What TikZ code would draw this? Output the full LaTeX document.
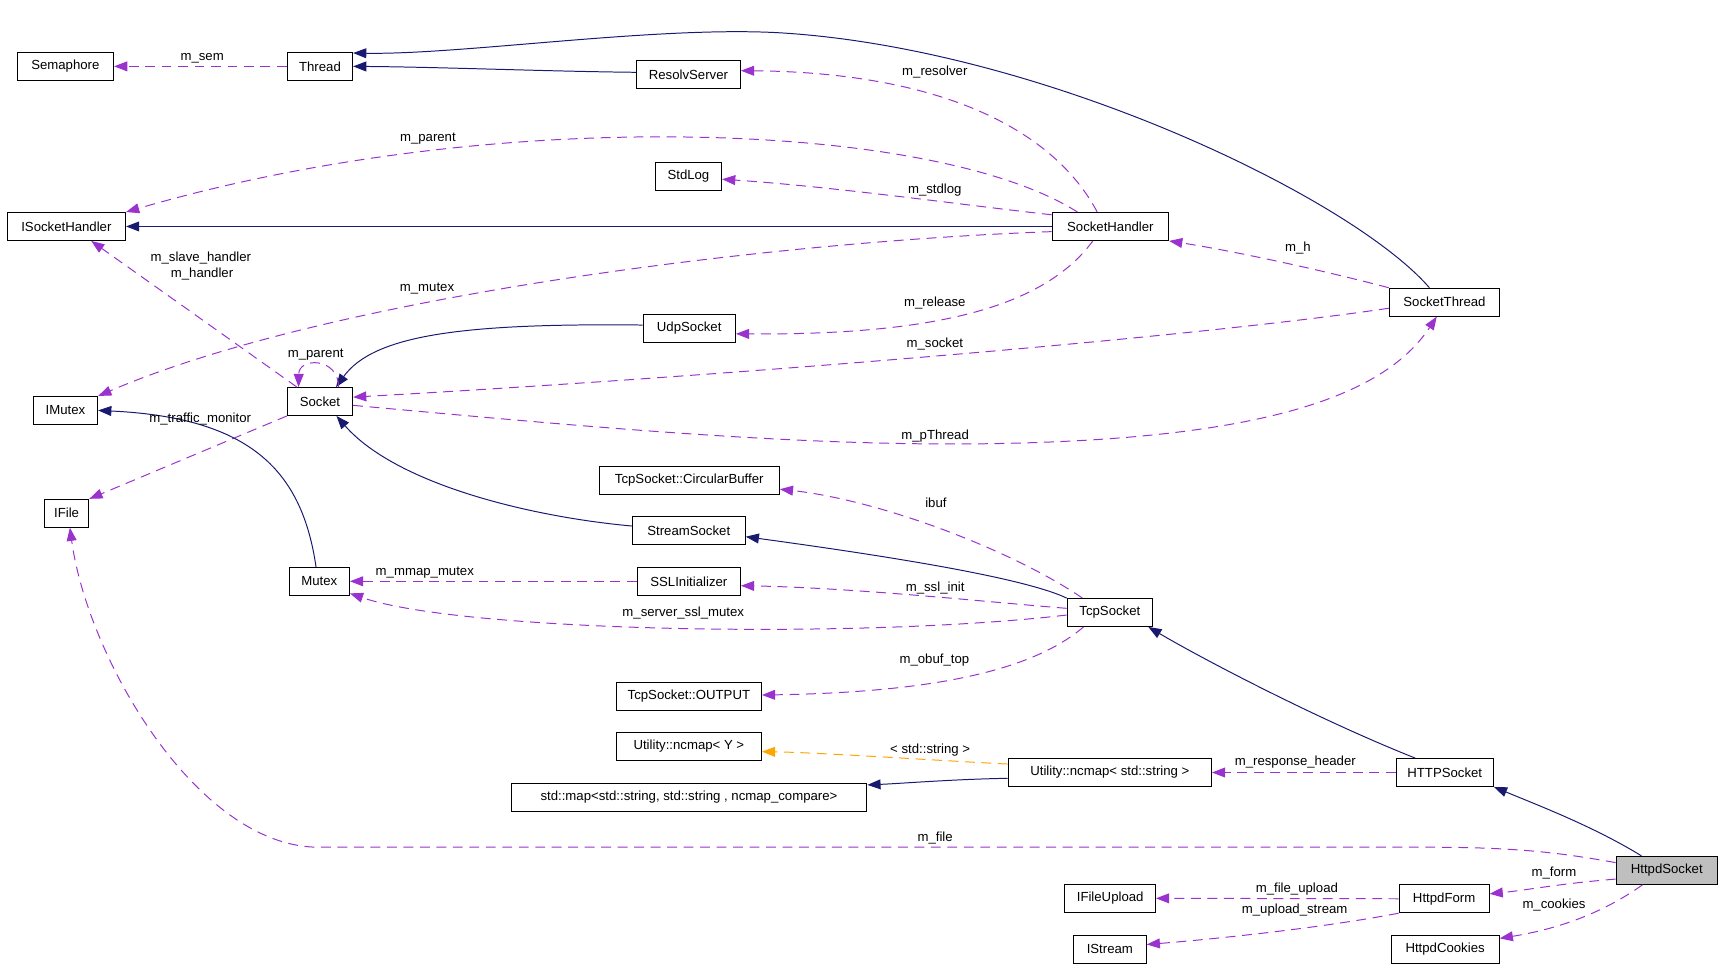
\documentclass[tikz,border=0pt]{standalone}
\usepackage{fontspec}
\setmainfont{Liberation Sans}
\usetikzlibrary{arrows.meta}
\definecolor{inhc}{HTML}{191970}
\definecolor{usec}{HTML}{9A32CD}
\definecolor{tplc}{HTML}{FFA500}
\begin{document}
\begin{tikzpicture}[x=1pt,y=-1pt,font=\fontsize{12}{14}\selectfont,
  cls/.style={draw=black,line width=1pt,fill=white,inner sep=0pt,minimum height=25.3pt},
  inh/.style={draw=inhc,line width=0.9pt,-{Triangle[length=12pt,width=9pt]}},
  use/.style={draw=usec,line width=0.9pt,dash pattern=on 9pt off 6pt,-{Triangle[length=12pt,width=9pt]}},
  tpl/.style={draw=tplc,line width=0.9pt,dash pattern=on 9pt off 6pt,-{Triangle[length=12pt,width=9pt]}},
  lbl/.style={inner sep=0pt,text height=6.2pt,text depth=0pt}]
\useasboundingbox (0,0) rectangle (1568,880);
% nodes
\node[cls,minimum width=87.7pt] (semaphore) at (59.5,60.4) {Semaphore};
\node[cls,minimum width=59.3pt] (thread) at (291.2,60.4) {Thread};
\node[cls,minimum width=94.5pt] (resolv) at (626.5,67.8) {ResolvServer};
\node[cls,minimum width=60.3pt] (stdlog) at (626.5,160.6) {StdLog};
\node[cls,minimum width=107.6pt] (ish) at (60.4,206.1) {ISocketHandler};
\node[cls,minimum width=105.9pt] (sh) at (1010.5,206.1) {SocketHandler};
\node[cls,minimum width=100.4pt] (st) at (1314.5,275) {SocketThread};
\node[cls,minimum width=84pt] (udp) at (627.2,298.8) {UdpSocket};
\node[cls,minimum width=58.5pt] (imutex) at (59.6,373.5) {IMutex};
\node[cls,minimum width=59.3pt] (socket) at (291.2,365.4) {Socket};
\node[cls,minimum width=40.4pt] (ifile) at (60.6,467.1) {IFile};
\node[cls,minimum width=164pt] (cbuf) at (627.2,437.2) {TcpSocket::CircularBuffer};
\node[cls,minimum width=102.7pt] (stream) at (626.8,482.7) {StreamSocket};
\node[cls,minimum width=54.7pt] (mutex) at (290.6,529) {Mutex};
\node[cls,minimum width=93.8pt] (ssl) at (626.9,529) {SSLInitializer};
\node[cls,minimum width=77.6pt] (tcp) at (1010,557.4) {TcpSocket};
\node[cls,minimum width=132pt] (output) at (626.9,633.8) {TcpSocket::OUTPUT};
\node[cls,minimum width=132pt] (ncY) at (626.9,679.2) {Utility::ncmap< Y >};
\node[cls,minimum width=184.9pt] (ncS) at (1010,703) {Utility::ncmap< std::string >};
\node[cls,minimum width=323.7pt] (stdmap) at (627,725.6) {std::map<std::string, std::string , ncmap\_compare>};
\node[cls,minimum width=88.4pt] (http) at (1314.8,703) {HTTPSocket};
\node[cls,minimum width=92.1pt,fill=black!25] (httpd) at (1516.8,792) {HttpdSocket};
\node[cls,minimum width=82.4pt] (ifu) at (1010.3,817.5) {IFileUpload};
\node[cls,minimum width=81.8pt] (form) at (1314.2,817.9) {HttpdForm};
\node[cls,minimum width=98.4pt] (cookies) at (1315.1,864.1) {HttpdCookies};
\node[cls,minimum width=66.1pt] (istream) at (1010,864) {IStream};
% edges
\draw[use] (thread.west) -- (semaphore.east);
\draw[inh] ([yshift=2pt]resolv.west) .. controls (500,65) and (400,61) .. (thread.east);
\draw[inh] ([xshift=-13.7pt]st.north) .. controls (1230,180) and (950,45) .. (712,30) .. controls (600,23) and (420,50) .. ([yshift=-1pt]thread.north east);
\draw[inh] (sh.west) -- (ish.east);
\draw[use] ([xshift=-12pt]sh.north) .. controls (960,120) and (860,66) .. ([yshift=3.5pt]resolv.east);
\draw[use] ([yshift=-2.5pt]sh.north west) .. controls (880,187) and (760,170) .. ([yshift=-2.5pt]stdlog.east);
\draw[use] ([xshift=-30pt]sh.north) .. controls (850,110) and (450,95) .. (ish.north east);
\draw[use] ([yshift=-4.7pt]sh.west) .. controls (700,220) and (300,270) .. (imutex.north east);
\draw[use] ([xshift=-16pt]sh.south) .. controls (950,280) and (850,305) .. ([yshift=-5pt]udp.east);
\draw[inh] ([yshift=3pt]udp.west) .. controls (420,294) and (340,305) .. ([xshift=14.6pt]socket.north);
\draw[use] ([xshift=-21pt]socket.north) -- ([xshift=22.6pt]ish.south);
\draw[use] ([xshift=17pt]socket.north) .. controls (308,325) and (272,325) .. ([xshift=-19.5pt]socket.north);
\draw[use] ([yshift=-5.5pt]st.west) .. controls (1100,305) and (700,340) .. ([yshift=4pt]socket.east);
\draw[use] ([yshift=-3.5pt]socket.east) .. controls (500,385) and (700,405) .. (880,404) .. controls (1150,402) and (1260,360) .. ([xshift=-7pt]st.south);
\draw[use] (st.north west) .. controls (1200,245) and (1120,228) .. (sh.south east);
\draw[use] (socket.south west) -- (ifile.north east);
\draw[inh] ([xshift=-3pt]mutex.north) .. controls (275,430) and (230,380) .. (imutex.east);
\draw[inh] ([yshift=4pt]stream.west) .. controls (480,470) and (360,440) .. ([xshift=15pt]socket.south);
\draw[inh] (tcp.north west) .. controls (930,525) and (800,505) .. ([yshift=-5.7pt]stream.east);
\draw[use] ([xshift=-25pt]tcp.north) .. controls (920,500) and (800,455) .. ([yshift=-8pt]cbuf.east);
\draw[use] ([yshift=3.8pt]tcp.west) .. controls (900,548) and (780,535) .. ([yshift=-4pt]ssl.east);
\draw[use] (ssl.west) -- (mutex.east);
\draw[use] ([yshift=-2.3pt]tcp.west) .. controls (780,582) and (420,575) .. ([yshift=-11pt]mutex.east);
\draw[use] ([xshift=-24pt]tcp.south) .. controls (940,610) and (850,630) .. ([yshift=1.3pt]output.east);
\draw[inh] ([xshift=-27pt]http.north) .. controls (1200,655) and (1095,600) .. ([xshift=35pt]tcp.south);
\draw[tpl] ([yshift=7.7pt]ncS.west) .. controls (850,692) and (750,685) .. ([yshift=-4.8pt]ncY.east);
\draw[inh] ([yshift=-5.3pt]ncS.west) .. controls (870,709) and (820,713) .. ([yshift=11.3pt]stdmap.east);
\draw[use] (http.west) -- (ncS.east);
\draw[inh] ([xshift=-23pt]httpd.north) .. controls (1450,752) and (1400,733) .. (http.south east);
\draw[use] ([yshift=7pt]httpd.west) .. controls (1420,776) and (1380,771) .. (1300,771) -- (290,771) .. controls (180,771) and (80,600) .. ([xshift=3pt]ifile.south);
\draw[use] ([yshift=-8pt]httpd.west) .. controls (1420,804) and (1390,810) .. ([yshift=4.5pt]form.east);
\draw[use] ([xshift=-22pt]httpd.south) .. controls (1460,830) and (1420,845) .. ([yshift=-3pt]cookies.north east);
\draw[use] (form.west) -- (ifu.east);
\draw[use] (form.south west) .. controls (1200,845) and (1100,855) .. ([yshift=4.5pt]istream.east);
% labels
\node[lbl] (lsem) at (184,51.6) {m\_sem};
\node[lbl] (lresolver) at (850.7,65.8) {m\_resolver};
\node[lbl] (lparent1) at (389.4,125.3) {m\_parent};
\node[lbl] (lstdlog) at (850.7,172.9) {m\_stdlog};
\node[lbl] (lslave) at (182.8,234.5) {m\_slave\_handler};
\node[lbl] (lhandler) at (183.9,249.6) {m\_handler};
\node[lbl] (lh) at (1181.2,226) {m\_h};
\node[lbl] (lmutex) at (388.6,261.8) {m\_mutex};
\node[lbl] (lrelease) at (850.7,275.4) {m\_release};
\node[lbl] (lsocket) at (850.7,313.3) {m\_socket};
\node[lbl] (lparent2) at (287.3,322.4) {m\_parent};
\node[lbl] (ltraffic) at (182.2,381.6) {m\_traffic\_monitor};
\node[lbl] (lpthread) at (851,397) {m\_pThread};
\node[lbl] (libuf) at (851.7,458.4) {ibuf};
\node[lbl] (lmmap) at (386.6,520.8) {m\_mmap\_mutex};
\node[lbl] (lsslinit) at (851,534.8) {m\_ssl\_init};
\node[lbl] (lserver) at (621.8,557.5) {m\_server\_ssl\_mutex};
\node[lbl] (lobuf) at (850.3,600.6) {m\_obuf\_top};
\node[lbl] (lstr) at (846.5,682.5) {< std::string >};
\node[lbl] (lresp) at (1178.8,693.2) {m\_response\_header};
\node[lbl] (lfile) at (851,762.9) {m\_file};
\node[lbl] (lform) at (1414.2,794.3) {m\_form};
\node[lbl] (lfu) at (1180.2,808.8) {m\_file\_upload};
\node[lbl] (lus) at (1178.2,828.2) {m\_upload\_stream};
\node[lbl] (lcook) at (1414.2,823.6) {m\_cookies};
\end{tikzpicture}
\end{document}
